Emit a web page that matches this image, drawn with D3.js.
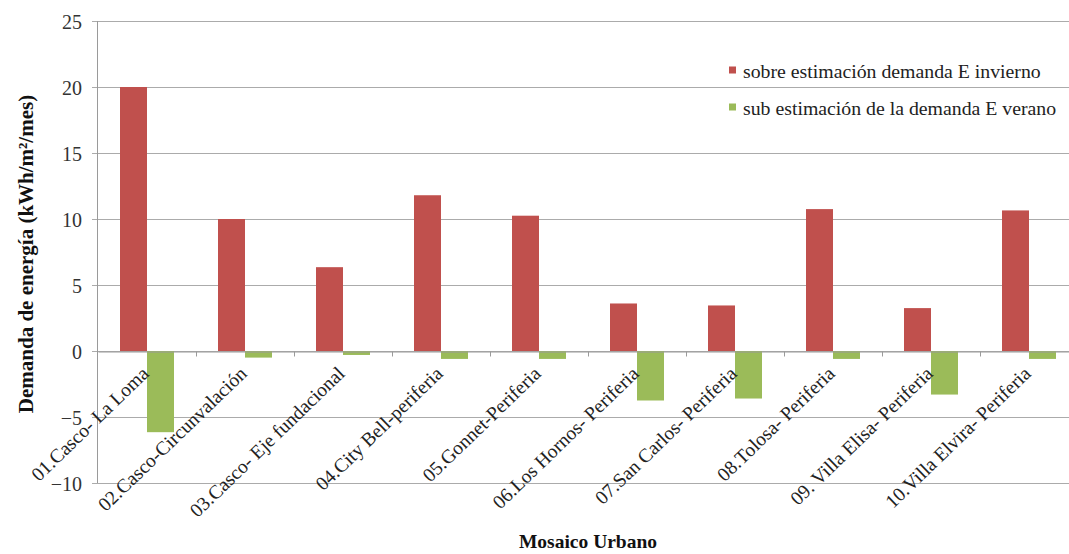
<!DOCTYPE html>
<html>
<head>
<meta charset="utf-8">
<script src="https://cdn.jsdelivr.net/npm/d3@7/dist/d3.min.js"></script>
<style>
  html, body { margin: 0; padding: 0; background: #fff; }
  svg { display: block; }
  text { font-family: "Liberation Serif", "Times New Roman", serif; }
</style>
</head>
<body>
<svg id="chart" width="1069" height="554"></svg>
<script>
// Mosaicos urbanos
const categories = [
  "01.Casco- La Loma",
  "02.Casco-Circunvalación",
  "03.Casco- Eje fundacional",
  "04.City Bell-periferia",
  "05.Gonnet-Periferia",
  "06.Los Hornos- Periferia",
  "07.San Carlos- Periferia",
  "08.Tolosa- Periferia",
  "09. Villa Elisa- Periferia",
  "10.Villa Elvira- Periferia"
];

const seriesNames = [
  "sobre estimación demanda E invierno",
  "sub estimación de la demanda E verano"
];

// kWh/m²/mes
const invierno = [20.0, 10.0, 6.35, 11.8, 10.25, 3.6, 3.45, 10.75, 3.25, 10.65];
const verano   = [-6.15, -0.5, -0.3, -0.6, -0.6, -3.75, -3.6, -0.6, -3.3, -0.6];

const yTicks = [-10, -5, 0, 5, 10, 15, 20, 25];

const colors = ["#c0504d", "#9bbb59"];

const serif = "'Liberation Serif', 'Times New Roman', serif";

const svg = d3.select("#chart");

const y = d3.scaleLinear().domain([-10, 25]).range([483, 21]);
const x = d3.scaleBand().domain(categories).range([98, 1078]).paddingInner(0).paddingOuter(0);
const x1 = d3.scaleBand().domain([0, 1]).range([0, x.bandwidth()]).paddingInner(0).paddingOuter(0.815);

// horizontal gridlines
svg.append("g")
  .selectAll("line")
  .data(yTicks)
  .join("line")
  .attr("x1", 92)
  .attr("x2", x.range()[1])
  .attr("y1", d => Math.round(y(d)) + 0.5)
  .attr("y2", d => Math.round(y(d)) + 0.5)
  .attr("stroke", "#ababab")
  .attr("stroke-width", 1);

// vertical axis line
svg.append("line")
  .attr("x1", 97.5).attr("x2", 97.5)
  .attr("y1", y(25)).attr("y2", y(-10))
  .attr("stroke", "#9a9a9a");

// y tick labels
const yAxis = d3.axisLeft(y).tickValues(yTicks).tickSize(0).tickPadding(15).tickFormat(d3.format("d"));
const gy = svg.append("g").attr("transform", "translate(97,0)").call(yAxis);
gy.select(".domain").remove();
gy.selectAll("text")
  .style("font-family", serif)
  .style("font-size", "20px")
  .attr("dy", "0.38em")
  .attr("fill", "#333");

// bars
const data = categories.map((c, i) => ({ c, v: [invierno[i], verano[i]] }));
const groups = svg.append("g").selectAll("g")
  .data(data)
  .join("g")
  .attr("transform", d => `translate(${x(d.c)},0)`);

groups.selectAll("rect")
  .data(d => d.v.map((v, k) => ({ v, k })))
  .join("rect")
  .attr("x", d => x1(d.k))
  .attr("width", x1.bandwidth())
  .attr("y", d => y(Math.max(0, d.v)))
  .attr("height", d => Math.abs(y(d.v) - y(0)))
  .attr("fill", d => colors[d.k]);

// zero axis with category separators
const xAxis = d3.axisBottom(x).tickSize(0).tickFormat("");
const gx = svg.append("g").attr("transform", `translate(0,${Math.round(y(0)) + 0.5})`).call(xAxis);
gx.select(".domain").attr("stroke", "#9a9a9a");
gx.selectAll(".tick").remove();
gx.selectAll(".sep")
  .data(categories.slice(1))
  .join("line")
  .attr("class", "sep")
  .attr("x1", d => Math.round(x(d)) + 0.5)
  .attr("x2", d => Math.round(x(d)) + 0.5)
  .attr("y1", 0).attr("y2", 5)
  .attr("stroke", "#9a9a9a");

// category labels
svg.append("g").selectAll("text")
  .data(categories)
  .join("text")
  .attr("transform", d => `translate(${x(d) + x.bandwidth() / 2 + 3},${y(0) + 24}) rotate(-44)`)
  .attr("text-anchor", "end")
  .style("font-family", serif)
  .style("font-size", "19.5px")
  .attr("fill", "#222")
  .text(d => d);

// legend
const legend = svg.append("g").attr("transform", "translate(729,0)");
const legendY = [70, 107];
seriesNames.forEach((name, i) => {
  legend.append("rect")
    .attr("x", 0).attr("y", legendY[i] - 3.5)
    .attr("width", 7).attr("height", 7)
    .attr("fill", colors[i]);
  legend.append("text")
    .attr("x", 14).attr("y", legendY[i] + 8)
    .style("font-family", serif)
    .style("font-size", "19.8px")
    .attr("fill", "#222")
    .text(name);
});

// axis titles
svg.append("text")
  .attr("transform", "translate(33,254) rotate(-90)")
  .attr("text-anchor", "middle")
  .style("font-family", serif)
  .style("font-size", "21px")
  .style("font-weight", "bold")
  .attr("fill", "#111")
  .text("Demanda de energía (kWh/m²/mes)");

svg.append("text")
  .attr("x", 588).attr("y", 548)
  .attr("text-anchor", "middle")
  .style("font-family", serif)
  .style("font-size", "19.5px")
  .style("font-weight", "bold")
  .attr("fill", "#111")
  .text("Mosaico Urbano");
</script>
</body>
</html>
